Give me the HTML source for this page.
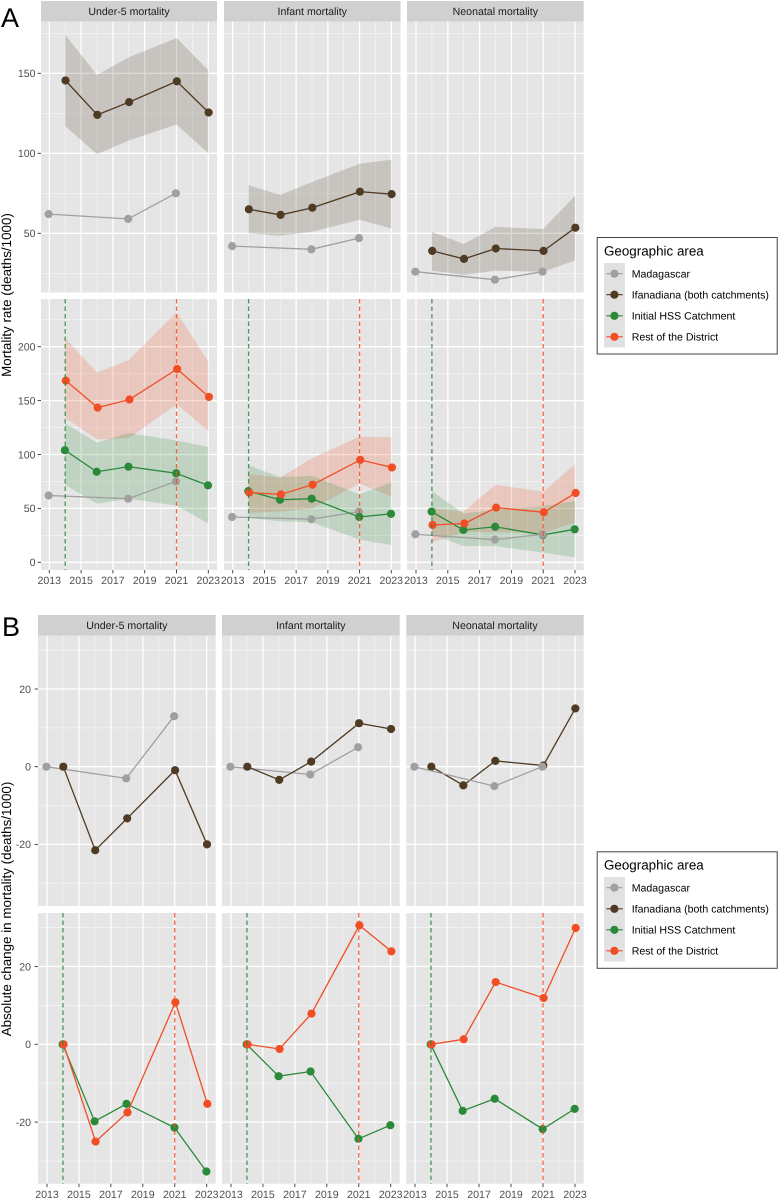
<!DOCTYPE html>
<html lang="en">
<head>
<meta charset="utf-8">
<title>Mortality rates and absolute change in mortality by geographic area</title>
<style>
html,body{margin:0;padding:0;background:#fff;}
svg{display:block;font-family:"Liberation Sans",Arial,sans-serif;text-rendering:geometricPrecision;}
.strip{font-size:10.6px;fill:#1a1a1a;text-anchor:middle;}
.tick{font-size:10.6px;fill:#4d4d4d;}
.axt{font-size:13.4px;fill:#000;text-anchor:middle;}
.letter{font-size:27px;fill:#000;}
.ltitle{font-size:13.4px;fill:#000;}
.llabel{font-size:10.6px;fill:#000;}
</style>
</head>
<body>
<svg id="chart" width="778" height="1199" viewBox="0 0 778 1199" xmlns="http://www.w3.org/2000/svg">
<rect x="0" y="0" width="778" height="1199" fill="#ffffff"/>
<g id="panels"></g>

<text class="letter" x="1" y="27">A</text>
<text class="letter" x="2" y="636">B</text>

<text class="axt" transform="translate(11,295) rotate(-90)">Mortality rate (deaths/1000)</text>
<text class="axt" transform="translate(11,909) rotate(-90)">Absolute change in mortality (deaths/1000)</text>

<g>
  <rect x="597.2" y="237.5" width="180" height="116.5" fill="#fff" stroke="#444" stroke-width="1"/>
  <text class="ltitle" x="604" y="255.5">Geographic area</text>
  <rect x="604" y="263" width="21" height="84.5" fill="#e1e1e1"/>
  <g>
    <line x1="606.3" x2="622.7" y1="273.7" y2="273.7" stroke="#a0a0a0" stroke-width="1.2"/>
    <circle cx="614.4" cy="273.7" r="4.1" fill="#a0a0a0"/>
    <text class="llabel" x="631.7" y="277.6">Madagascar</text>
  </g>
  <g>
    <line x1="606.3" x2="622.7" y1="294.7" y2="294.7" stroke="#4f3b24" stroke-width="1.2"/>
    <circle cx="614.4" cy="294.7" r="4.1" fill="#4f3b24"/>
    <text class="llabel" x="631.7" y="298.6">Ifanadiana (both catchments)</text>
  </g>
  <g>
    <line x1="606.3" x2="622.7" y1="315.8" y2="315.8" stroke="#2b8a3a" stroke-width="1.2"/>
    <circle cx="614.4" cy="315.8" r="4.1" fill="#2b8a3a"/>
    <text class="llabel" x="631.7" y="319.7">Initial HSS Catchment</text>
  </g>
  <g>
    <line x1="606.3" x2="622.7" y1="336.8" y2="336.8" stroke="#f24e25" stroke-width="1.2"/>
    <circle cx="614.4" cy="336.8" r="4.1" fill="#f24e25"/>
    <text class="llabel" x="631.7" y="340.7">Rest of the District</text>
  </g>
</g>

<g>
  <rect x="597.2" y="851.8" width="180" height="116.5" fill="#fff" stroke="#444" stroke-width="1"/>
  <text class="ltitle" x="604" y="869.5">Geographic area</text>
  <rect x="604" y="877" width="21" height="84.5" fill="#e1e1e1"/>
  <g>
    <line x1="606.3" x2="622.7" y1="887.7" y2="887.7" stroke="#a0a0a0" stroke-width="1.2"/>
    <circle cx="614.4" cy="887.7" r="4.1" fill="#a0a0a0"/>
    <text class="llabel" x="631.7" y="891.6">Madagascar</text>
  </g>
  <g>
    <line x1="606.3" x2="622.7" y1="908.8" y2="908.8" stroke="#4f3b24" stroke-width="1.2"/>
    <circle cx="614.4" cy="908.8" r="4.1" fill="#4f3b24"/>
    <text class="llabel" x="631.7" y="912.7">Ifanadiana (both catchments)</text>
  </g>
  <g>
    <line x1="606.3" x2="622.7" y1="929.8" y2="929.8" stroke="#2b8a3a" stroke-width="1.2"/>
    <circle cx="614.4" cy="929.8" r="4.1" fill="#2b8a3a"/>
    <text class="llabel" x="631.7" y="933.7">Initial HSS Catchment</text>
  </g>
  <g>
    <line x1="606.3" x2="622.7" y1="950.8" y2="950.8" stroke="#f24e25" stroke-width="1.2"/>
    <circle cx="614.4" cy="950.8" r="4.1" fill="#f24e25"/>
    <text class="llabel" x="631.7" y="954.7">Rest of the District</text>
  </g>
</g>
</svg>

<script>
// ---- Categories ----
const facetTitles = ['Under-5 mortality', 'Infant mortality', 'Neonatal mortality'];
const madaYears = [2013, 2018, 2021];
const surveyYears = [2014, 2016, 2018, 2021, 2023];
const xTickYears = [2013, 2015, 2017, 2019, 2021, 2023];
const xMinorYears = [2014, 2016, 2018, 2020, 2022];

// ---- Tick values ----
const ratesTopMajor = [50, 100, 150];
const ratesTopMinor = [25, 75, 125, 175];
const ratesBottomMajor = [0, 50, 100, 150, 200];
const ratesBottomMinor = [25, 75, 125, 175, 225];
const changeMajor = [-20, 0, 20];
const changeMinor = [-30, -10, 10, 30];

// ---- Panel A: mortality rates, Madagascar ----
const rateMadaUnder5 = [62, 59, 75];
const rateMadaInfant = [42, 40, 47];
const rateMadaNeonatal = [26, 21, 26];

// ---- Panel A: Ifanadiana ----
const rateIfanUnder5 = [145.5, 124, 132, 145, 125.5];
const rateIfanUnder5Lo = [117, 99.5, 108, 118, 100];
const rateIfanUnder5Hi = [174, 149, 160, 172, 152];
const rateIfanInfant = [65, 61.5, 66, 76, 74.5];
const rateIfanInfantLo = [50, 48.5, 51, 58.5, 53];
const rateIfanInfantHi = [80, 74, 82, 93.5, 96];
const rateIfanNeonatal = [39, 34, 40.5, 39, 53.5];
const rateIfanNeonatalLo = [26.7, 24, 26.7, 26, 33];
const rateIfanNeonatalHi = [51, 43.3, 54, 52.7, 73.5];

// ---- Panel A: Initial HSS catchment ----
const rateHssUnder5 = [104, 84, 88.7, 82.6, 71.4];
const rateHssUnder5Lo = [71.7, 54.4, 59, 52.6, 36];
const rateHssUnder5Hi = [129, 111, 120, 113, 107];
const rateHssInfant = [66, 58, 59, 42, 45];
const rateHssInfantLo = [41, 38, 37, 21, 16];
const rateHssInfantHi = [90, 79, 80, 63, 74];
const rateHssNeonatal = [47, 30, 33, 25.4, 30.6];
const rateHssNeonatalLo = [26, 15, 15, 9, 4.6];
const rateHssNeonatalHi = [66, 45, 49, 52, 57];

// ---- Panel A: Rest of the District ----
const rateRestUnder5 = [168.5, 143.5, 151, 179.3, 153.4];
const rateRestUnder5Lo = [134, 114, 115, 146.6, 122];
const rateRestUnder5Hi = [207.8, 176, 187.7, 232, 186];
const rateRestInfant = [64.6, 63, 72, 95, 88];
const rateRestInfantLo = [45.8, 47, 50, 73, 61];
const rateRestInfantHi = [82, 78.5, 96.5, 116.6, 116];
const rateRestNeonatal = [34.6, 36, 50.7, 46.4, 64.3];
const rateRestNeonatalLo = [18.5, 28, 28, 27, 37];
const rateRestNeonatalHi = [50, 47, 72, 65.5, 91];

// ---- Panel B: absolute change ----
const changeMadaUnder5 = [0, -3, 13];
const changeMadaInfant = [0, -2, 5];
const changeMadaNeonatal = [0, -5, 0];
const changeIfanUnder5 = [0, -21.5, -13.3, -0.9, -20];
const changeIfanInfant = [0, -3.4, 1.3, 11.2, 9.7];
const changeIfanNeonatal = [0, -4.8, 1.5, 0.3, 15];
const changeHssUnder5 = [0, -19.8, -15.3, -21.4, -32.7];
const changeHssInfant = [0, -8.2, -7, -24.3, -20.8];
const changeHssNeonatal = [0, -17.1, -14, -21.8, -16.6];
const changeRestUnder5 = [0, -25, -17.5, 10.8, -15.3];
const changeRestInfant = [0, -1.2, 7.9, 30.6, 23.9];
const changeRestNeonatal = [0, 1.3, 16, 11.9, 29.9];

// ---- Events marked with dashed lines ----
const eventYearHss = 2014;
const eventYearRest = 2021;

// ---- Style and layout ----
const NS = 'http://www.w3.org/2000/svg';
const root = document.getElementById('panels');
const seriesStyle = {
  mada: { color: '#a0a0a0', dodge: -0.04, name: 'madagascar' },
  ifan: { color: '#4f3b24', dodge: 0.02, name: 'ifanadiana' },
  hss:  { color: '#2b8a3a', dodge: -0.02, name: 'initial-hss' },
  rest: { color: '#f24e25', dodge: 0.04, name: 'rest-of-district' }
};

function make(tag, attrs, parent) {
  const el = document.createElementNS(NS, tag);
  for (const k in attrs) el.setAttribute(k, attrs[k]);
  parent.appendChild(el);
  return el;
}

const figures = [
  {
    id: 'a',
    stripTop: 1, stripBottom: 21.5, tickLabelEnd: 35.5, xLabelOffset: 14,
    columns: [
      { left: 41, right: 217, x2013: 49.3, x2023: 208.3 },
      { left: 224, right: 400.5, x2013: 232.7, x2023: 391.3 },
      { left: 407, right: 583.7, x2013: 416, x2023: 575 }
    ],
    rows: [
      {
        top: 21.5, bottom: 292.5, zeroPixel: 313.3, pixelsPerUnit: 1.6,
        major: ratesTopMajor, minor: ratesTopMinor, events: false,
        content: [
          { ribbons: [['ifan', rateIfanUnder5Lo, rateIfanUnder5Hi]], lines: [['mada', madaYears, rateMadaUnder5], ['ifan', surveyYears, rateIfanUnder5]] },
          { ribbons: [['ifan', rateIfanInfantLo, rateIfanInfantHi]], lines: [['mada', madaYears, rateMadaInfant], ['ifan', surveyYears, rateIfanInfant]] },
          { ribbons: [['ifan', rateIfanNeonatalLo, rateIfanNeonatalHi]], lines: [['ifan', surveyYears, rateIfanNeonatal], ['mada', madaYears, rateMadaNeonatal]] }
        ]
      },
      {
        top: 299, bottom: 570, zeroPixel: 562.3, pixelsPerUnit: 1.078,
        major: ratesBottomMajor, minor: ratesBottomMinor, events: true,
        content: [
          { ribbons: [['rest', rateRestUnder5Lo, rateRestUnder5Hi], ['hss', rateHssUnder5Lo, rateHssUnder5Hi]], lines: [['mada', madaYears, rateMadaUnder5], ['hss', surveyYears, rateHssUnder5], ['rest', surveyYears, rateRestUnder5]] },
          { ribbons: [['rest', rateRestInfantLo, rateRestInfantHi], ['hss', rateHssInfantLo, rateHssInfantHi]], lines: [['mada', madaYears, rateMadaInfant], ['hss', surveyYears, rateHssInfant], ['rest', surveyYears, rateRestInfant]] },
          { ribbons: [['rest', rateRestNeonatalLo, rateRestNeonatalHi], ['hss', rateHssNeonatalLo, rateHssNeonatalHi]], lines: [['hss', surveyYears, rateHssNeonatal], ['rest', surveyYears, rateRestNeonatal], ['mada', madaYears, rateMadaNeonatal]] }
        ]
      }
    ]
  },
  {
    id: 'b',
    stripTop: 615, stripBottom: 635.5, tickLabelEnd: 31, xLabelOffset: 14.3,
    columns: [
      { left: 38, right: 215.7, x2013: 47, x2023: 206.7 },
      { left: 222, right: 399.7, x2013: 231, x2023: 390.7 },
      { left: 406.3, right: 583.7, x2013: 415, x2023: 575 }
    ],
    rows: [
      {
        top: 635.5, bottom: 906, zeroPixel: 766.7, pixelsPerUnit: 3.885,
        major: changeMajor, minor: changeMinor, events: false,
        content: [
          { ribbons: [], lines: [['mada', madaYears, changeMadaUnder5], ['ifan', surveyYears, changeIfanUnder5]] },
          { ribbons: [], lines: [['mada', madaYears, changeMadaInfant], ['ifan', surveyYears, changeIfanInfant]] },
          { ribbons: [], lines: [['ifan', surveyYears, changeIfanNeonatal], ['mada', madaYears, changeMadaNeonatal]] }
        ]
      },
      {
        top: 913, bottom: 1183.7, zeroPixel: 1044.3, pixelsPerUnit: 3.89,
        major: changeMajor, minor: changeMinor, events: true,
        content: [
          { ribbons: [], lines: [['hss', surveyYears, changeHssUnder5], ['rest', surveyYears, changeRestUnder5]] },
          { ribbons: [], lines: [['hss', surveyYears, changeHssInfant], ['rest', surveyYears, changeRestInfant]] },
          { ribbons: [], lines: [['hss', surveyYears, changeHssNeonatal], ['rest', surveyYears, changeRestNeonatal]] }
        ]
      }
    ]
  }
];

function drawGrid(g, col, row, xScale, yScale) {
  const grid = make('g', {}, g);
  
  
  row.minor.forEach(v => make('line', { x1: col.left, x2: col.right, y1: yScale(v), y2: yScale(v), stroke: '#f5f5f5', 'stroke-width': 0.7 }, grid));
  xMinorYears.forEach(y => make('line', { x1: xScale(y), x2: xScale(y), y1: row.top, y2: row.bottom, stroke: '#f5f5f5', 'stroke-width': 0.7 }, grid));
  row.major.forEach(v => make('line', { x1: col.left, x2: col.right, y1: yScale(v), y2: yScale(v), stroke: '#ffffff', 'stroke-width': 1.3 }, grid));
  xTickYears.forEach(y => make('line', { x1: xScale(y), x2: xScale(y), y1: row.top, y2: row.bottom, stroke: '#ffffff', 'stroke-width': 1.3 }, grid));
}

function drawRibbon(g, spec, xScale, yScale) {
  const style = seriesStyle[spec[0]];
  const lo = spec[1], hi = spec[2];
  const upper = surveyYears.map((y, i) => xScale(y) + ',' + yScale(hi[i]));
  const lower = surveyYears.map((y, i) => xScale(y) + ',' + yScale(lo[i])).reverse();
  const el = make('polygon', { points: upper.concat(lower).join(' '), fill: style.color, 'fill-opacity': 0.2 }, g);
  
  
}

function drawSeries(g, spec, xScale, yScale) {
  const style = seriesStyle[spec[0]];
  const years = spec[1], values = spec[2];
  const px = y => xScale(y + style.dodge);
  const pts = years.map((y, i) => px(y) + ',' + yScale(values[i])).join(' ');
  const line = make('polyline', { points: pts, fill: 'none', stroke: style.color, 'stroke-width': 1.3 }, g);
  
  
  years.forEach((y, i) => {
    const dot = make('circle', { cx: px(y), cy: yScale(values[i]), r: 4.1, fill: style.color }, g);
    
    
  });
}

function drawEvent(g, year, color, name, xScale, row) {
  const el = make('line', { x1: xScale(year), x2: xScale(year), y1: row.top, y2: row.bottom, stroke: color, 'stroke-width': 1.3, 'stroke-dasharray': '4.5 3', 'stroke-opacity': 0.85 }, g);
  
  
}

function drawYTicks(g, col, row, fig, yScale) {
  row.major.forEach(v => {
    make('line', { x1: col.left - 3.4, x2: col.left, y1: yScale(v), y2: yScale(v), stroke: '#333', 'stroke-width': 0.9 }, g);
    const t = make('text', { class: 'tick', x: fig.tickLabelEnd, y: yScale(v) + 3.8, 'text-anchor': 'end' }, g);
    
    
    t.textContent = String(v);
  });
}

function drawXTicks(g, row, fig, xScale) {
  xTickYears.forEach(y => {
    make('line', { x1: xScale(y), x2: xScale(y), y1: row.bottom, y2: row.bottom + 3.4, stroke: '#333', 'stroke-width': 0.9 }, g);
    const t = make('text', { class: 'tick', x: xScale(y), y: row.bottom + fig.xLabelOffset, 'text-anchor': 'middle' }, g);
    
    
    t.textContent = String(y);
  });
}

figures.forEach(fig => {
  const figGroup = make('g', {}, root);
  
  

  fig.columns.forEach((col, c) => {
    make('rect', { x: col.left, y: fig.stripTop, width: col.right - col.left, height: fig.stripBottom - fig.stripTop, fill: '#d0d0d0' }, figGroup);
    const label = make('text', { class: 'strip', x: (col.left + col.right) / 2, y: (fig.stripTop + fig.stripBottom) / 2 + 3.8 }, figGroup);
    
    
    label.textContent = facetTitles[c];
  });

  fig.rows.forEach((row, r) => {
    const yScale = v => row.zeroPixel - v * row.pixelsPerUnit;
    fig.columns.forEach((col, c) => {
      const xScale = y => col.x2013 + (y - 2013) * (col.x2023 - col.x2013) / 10;
      const g = make('g', {}, figGroup);
      
      

      make('rect', { x: col.left, y: row.top, width: col.right - col.left, height: row.bottom - row.top, fill: '#e5e5e5' }, g);
      drawGrid(g, col, row, xScale, yScale);

      const content = row.content[c];
      content.ribbons.forEach(spec => drawRibbon(g, spec, xScale, yScale));
      content.lines.forEach(spec => drawSeries(g, spec, xScale, yScale));
      if (row.events) {
        drawEvent(g, eventYearHss, seriesStyle.hss.color, 'programme-start-line', xScale, row);
        drawEvent(g, eventYearRest, seriesStyle.rest.color, 'expansion-line', xScale, row);
      }
      if (c === 0) drawYTicks(g, col, row, fig, yScale);
      if (r === fig.rows.length - 1) drawXTicks(g, row, fig, xScale);
    });
  });
});
</script>
</body>
</html>
